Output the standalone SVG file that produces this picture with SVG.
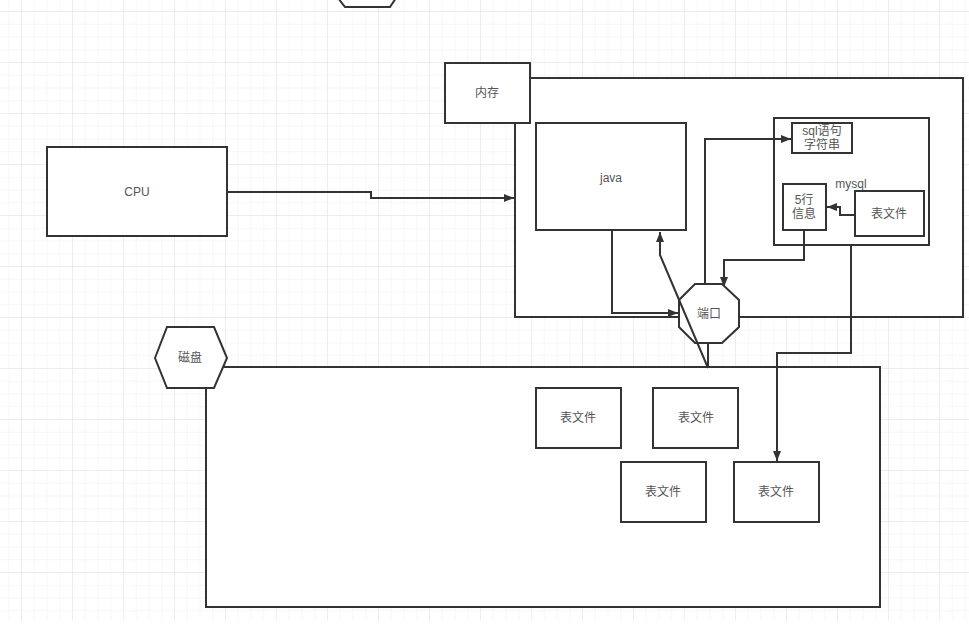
<svg xmlns="http://www.w3.org/2000/svg" width="969" height="625" viewBox="0 0 969 625">
<defs>
<pattern id="minor" x="8.25" y="11" width="12.75" height="12.75" patternUnits="userSpaceOnUse">
<path d="M0 0H12.75M0 0V12.75" fill="none" stroke="#f0f0f0" stroke-width="1"/>
</pattern>
<pattern id="major" x="21" y="11" width="51" height="51" patternUnits="userSpaceOnUse">
<path d="M0 0H51M0 0V51" fill="none" stroke="#e4e4e4" stroke-width="1"/>
</pattern>
<marker id="arr" viewBox="0 0 10 10" refX="10" refY="5" markerWidth="10" markerHeight="8" markerUnits="userSpaceOnUse" orient="auto" preserveAspectRatio="none">
<path d="M0 0L10 5L0 10z" fill="#333"/>
</marker>
</defs>
<style>
.n{fill:#fff;stroke:#333;stroke-width:2}
.c{fill:none;stroke:#333;stroke-width:2}
.t{font-family:"Liberation Sans","Noto Sans CJK SC",sans-serif;font-size:12px;fill:#555;text-anchor:middle;dominant-baseline:central}
</style>
<rect width="969" height="625" fill="#fff"/>
<rect width="969" height="620" fill="url(#minor)"/>
<rect width="969" height="620" fill="url(#major)"/>

<g id="top-hex"><polygon class="n" points="338,-2 345,7 390,7 396,-2"/></g>

<g id="memory-container"><rect class="n" x="515" y="78" width="448" height="239"/></g>
<g id="disk-container"><rect class="n" x="206" y="367" width="674" height="240"/></g>

<g id="cpu"><rect class="n" x="47" y="147" width="180" height="89"/><text class="t" x="137" y="192">CPU</text></g>
<g id="memory"><rect class="n" x="445" y="63" width="85" height="60"/><text class="t" x="487" y="93">内存</text></g>
<g id="java"><rect class="n" x="536" y="123" width="150" height="107"/><text class="t" x="611" y="178">java</text></g>
<g id="mysql"><rect class="n" x="774" y="118" width="155" height="127"/><text class="t" x="851" y="184">mysql</text></g>
<g id="sql"><rect class="n" x="792" y="123" width="60" height="30"/><text class="t" x="822" y="131">sql语句</text><text class="t" x="822" y="145">字符串</text></g>
<g id="rows"><rect class="n" x="783" y="184" width="43" height="46"/><text class="t" x="804" y="200">5行</text><text class="t" x="804" y="214">信息</text></g>
<g id="table-mysql"><rect class="n" x="855" y="191" width="69" height="45"/><text class="t" x="889" y="214">表文件</text></g>
<g id="disk"><polygon class="n" points="155,358 167,327 214,327 227,358 214,388 167,388"/><text class="t" x="190" y="358">磁盘</text></g>
<g id="table1"><rect class="n" x="536" y="388" width="85" height="60"/><text class="t" x="578" y="418">表文件</text></g>
<g id="table2"><rect class="n" x="653" y="388" width="85" height="60"/><text class="t" x="696" y="418">表文件</text></g>
<g id="table3"><rect class="n" x="621" y="462" width="85" height="60"/><text class="t" x="663" y="492">表文件</text></g>
<g id="table4"><rect class="n" x="734" y="462" width="85" height="60"/><text class="t" x="776" y="492">表文件</text></g>

<g id="connectors">
<path class="c" d="M227 192H371V198H514" marker-end="url(#arr)"/>
<path class="c" d="M612 230V313H678" marker-end="url(#arr)"/>
<path class="c" d="M705 284V139H791" marker-end="url(#arr)"/>
<path class="c" d="M804 230V260H724V287" marker-end="url(#arr)"/>
<path class="c" d="M855 215H840V207H827" marker-end="url(#arr)"/>
<path class="c" d="M851 245V353H777V461" marker-end="url(#arr)"/>
<path class="c" d="M708 343V368"/>
</g>

<g id="port"><polygon class="n" points="695,284 722,284 739,300 739,327 722,343 695,343 679,327 679,300"/><text class="t" x="709" y="314">端口</text></g>

<g id="connectors-over">
<path class="c" d="M708 368L660 255V232" marker-end="url(#arr)"/>
</g>
</svg>
